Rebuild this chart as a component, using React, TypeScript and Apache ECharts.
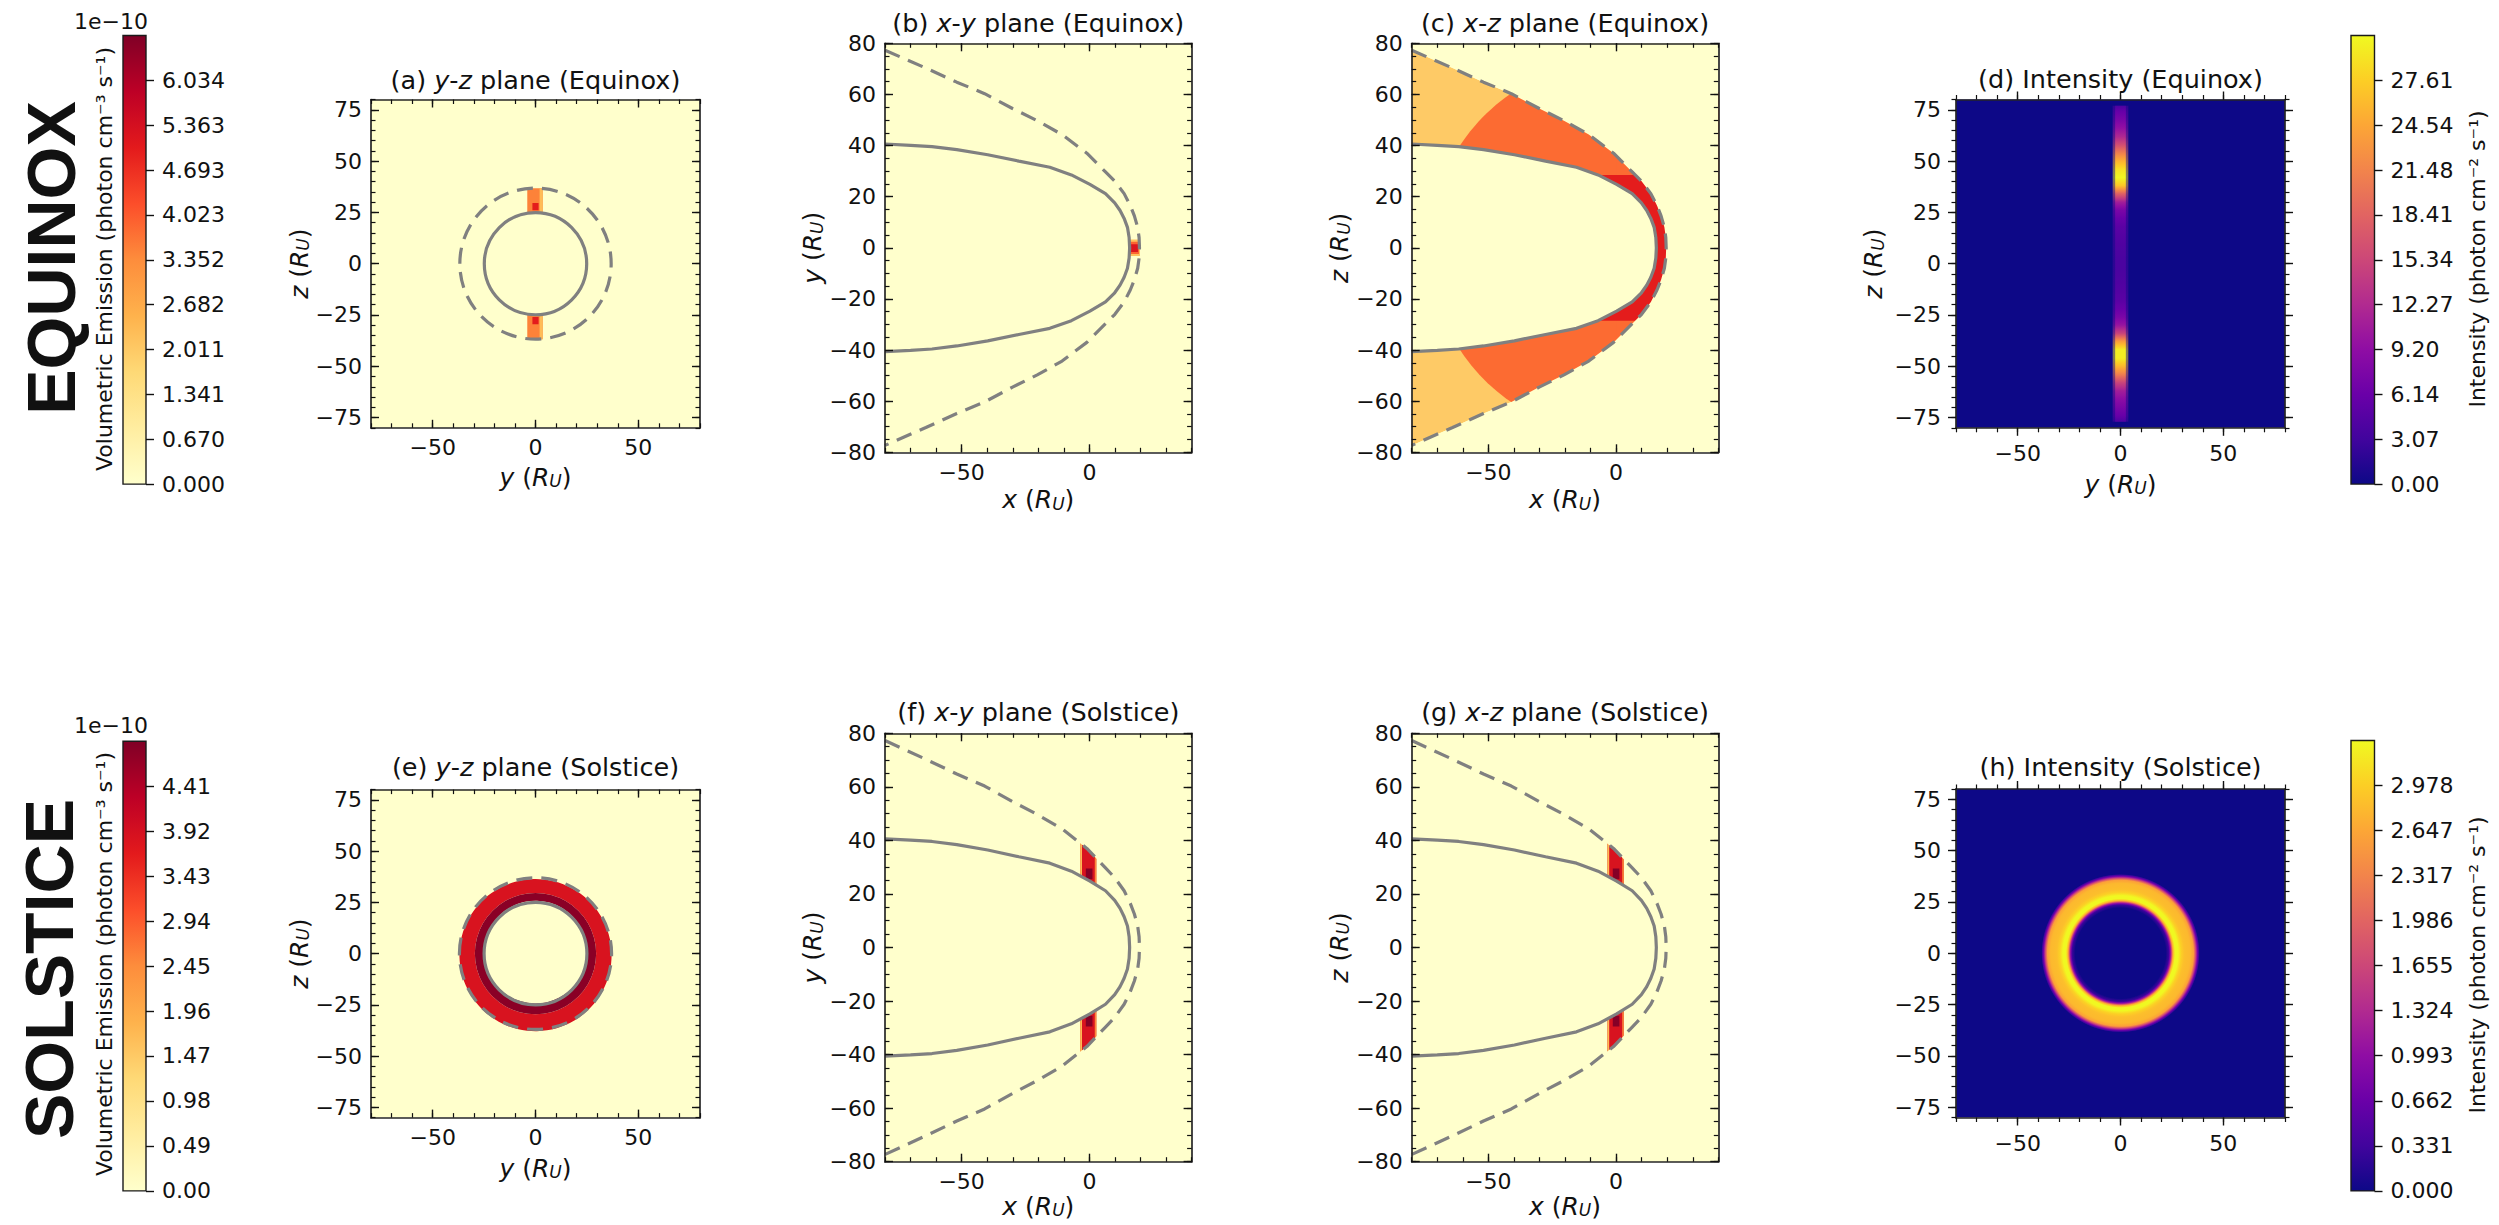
import React, { useEffect, useRef } from "react";
import * as echarts from "echarts";

const FONT = "DejaVu Sans";
const INK = "#111111";
const LINE_GREY = "#808080";

// ---------- colormaps (matplotlib YlOrRd, plasma)
const YL_OR_RD = ["#ffffcc", "#ffeda0", "#fed976", "#feb24c", "#fd8d3c", "#fc4e2a", "#e31a1c", "#bd0026", "#800026"];
const PLASMA = ["#0d0887", "#41049d", "#6a00a8", "#8f0da4", "#b12a90", "#cc4778", "#e16462", "#f2844b", "#fca636", "#fcce25", "#f0f921"];

// ---------- colorbar ranges and tick labels
const emissionEquinoxMax = 6.704;
const emissionEquinoxTicks = ["0.000", "0.670", "1.341", "2.011", "2.682", "3.352", "4.023", "4.693", "5.363", "6.034"];
const emissionSolsticeMax = 4.9;
const emissionSolsticeTicks = ["0.00", "0.49", "0.98", "1.47", "1.96", "2.45", "2.94", "3.43", "3.92", "4.41"];
const intensityEquinoxMax = 30.68;
const intensityEquinoxTicks = ["0.00", "3.07", "6.14", "9.20", "12.27", "15.34", "18.41", "21.48", "24.54", "27.61"];
const intensitySolsticeMax = 3.309;
const intensitySolsticeTicks = ["0.000", "0.331", "0.662", "0.993", "1.324", "1.655", "1.986", "2.317", "2.647", "2.978"];

// ---------- axis ticks
const yzMajorX = [-50, 0, 50];
const yzMajorY = [-75, -50, -25, 0, 25, 50, 75];
const planeMajorX = [-50, 0];
const planeMajorY = [-80, -60, -40, -20, 0, 20, 40, 60, 80];

// ---------- boundaries (upper half, tail -> nose): x and cylindrical radius, in R_U
const magnetopauseX = [-80, -70, -61.6, -51.9, -39.8, -27.6, -15.5, -7.05, 0.2, 6.3, 9.9, 12.0, 13.6, 14.9, 15.55, 15.75];
const magnetopauseRho = [40.6, 40.1, 39.6, 38.4, 36.4, 33.9, 31.5, 28.5, 24.8, 21.2, 17.6, 14.6, 11.5, 8.0, 4.0, 0];
const bowShockX = [-80, -64, -51.9, -41.0, -30.1, -20.4, -10.7, -1.0, 6.3, 9.9, 13.6, 16.0, 17.6, 18.9, 19.45, 19.6];
const bowShockRho = [77.3, 70.3, 64.8, 60.3, 54.5, 49.7, 44.3, 37.0, 29.7, 26.1, 21.2, 16.5, 12.5, 8.0, 4.0, 0];

// cross-sections at x = 0 (radius of magnetopause, bow shock), [radius, dashed]
const yzCirclesEquinox = [[24.9, 0], [36.8, 1]];
const yzCirclesSolstice = [[25.0, 0], [37.0, 1]];

// ---------- emission cells [x0, x1, y0, y1, value(1e-10)]
const equinoxYZCells = [
  [-4.0, 3.5, 24.5, 36.8, 3.5],
  [-4.0, 3.5, -36.8, -24.5, 3.5],
  [2.0, 3.5, 24.5, 36.8, 2.3],
  [2.0, 3.5, -36.8, -24.5, 2.3],
  [-1.5, 1.5, 26.0, 29.5, 5.0],
  [-1.5, 1.5, -29.5, -26.0, 5.0],
];
const equinoxXYCells = [
  [15.2, 19.8, -3.2, 3.2, 2.2],
  [15.7, 19.4, -2.4, 2.4, 3.9],
  [16.3, 19.0, -1.6, 1.4, 5.2],
];
// x-z equinox sheath: levels [outer (r > radius), inner (r < radius), equatorial band]
const equinoxXZLevels = [2.0, 3.8, 5.0];
const equinoxXZRadius = 73;
const equinoxXZBand = 28.5;

const solsticeYZRings = [
  [29.5, 37.0, 3.85],
  [25.0, 29.5, 4.8],
];
const solsticeXYCells = [
  [-3.6, 2.7, 20, 42, 3.85], [-3.6, 2.7, -42, -20, 3.85],
  [-3.6, -2.9, 20, 42, 1.7], [-3.6, -2.9, -42, -20, 1.7],
  [2.1, 2.7, 20, 42, 2.5], [2.1, 2.7, -42, -20, 2.5],
  [-1.4, 1.2, 25.5, 29.5, 4.85], [-1.4, 1.2, -29.5, -25.5, 4.85],
];
const solsticeXZCells = [
  [-3.4, 3.0, 20, 42, 3.85], [-3.4, 3.0, -42, -20, 3.85],
  [-3.4, -2.7, 20, 42, 1.7], [-3.4, -2.7, -42, -20, 1.7],
  [2.4, 3.0, 20, 42, 2.5], [2.4, 3.0, -42, -20, 2.5],
  [-1.3, 1.3, 25.5, 29.5, 4.85], [-1.3, 1.3, -29.5, -25.5, 4.85],
];

// ---------- intensity (equinox): stripe along z at y ~ 0
const equinoxStripeHalfWidth = [3.8, 2.6];
const equinoxStripeZ = [77, 74, 70, 66, 62, 58, 54, 50, 46, 42, 38, 34, 30, 26, 22, 18, 14, 10, 6, 2,
  -2, -6, -10, -14, -18, -22, -26, -30, -34, -38, -42, -46, -50, -54, -58, -62, -66, -70, -74, -77];
const equinoxStripeI = [4, 6, 7.5, 9.5, 12, 16, 21, 25.5, 29, 30.6, 27, 18, 11, 7.5, 6, 5, 4.6, 4.3, 4.0, 3.8,
  3.8, 4.0, 4.3, 4.6, 5, 6, 7.5, 10, 15, 24, 30, 30, 26, 21, 15, 11, 9, 7.5, 6, 4];

// ---------- intensity (solstice): radial ring profile
const solsticeRingR = [22, 23.5, 24.5, 25.5, 26.5, 28.0, 29.5, 31, 34, 35.5, 36.5, 37.5, 38.5];
const solsticeRingI = [0, 0.3, 1.2, 2.7, 3.3, 3.3, 3.0, 2.85, 2.8, 2.6, 1.7, 0.7, 0];

// ---------- helpers
function hexRgb(h: string): number[] {
  return [1, 3, 5].map((i) => parseInt(h.slice(i, i + 2), 16));
}
function cmap(stops: string[], t: number): string {
  const tt = Math.max(0, Math.min(1, t));
  const n = stops.length - 1;
  const f = tt * n;
  const i = Math.min(n - 1, Math.floor(f));
  const u = f - i;
  const a = hexRgb(stops[i]);
  const b = hexRgb(stops[i + 1]);
  const c = a.map((v, k) => Math.round(v + (b[k] - v) * u));
  return `rgb(${c[0]},${c[1]},${c[2]})`;
}
function profileStops(pos: number[], vals: number[], max: number, toOffset: (p: number) => number) {
  const stops: any[] = [];
  for (let i = 0; i < pos.length; i++) {
    const last = i === pos.length - 1;
    const sub = last ? 1 : 4;
    for (let k = 0; k < sub; k++) {
      const p = last ? pos[i] : pos[i] + ((pos[i + 1] - pos[i]) * k) / sub;
      const v = last ? vals[i] : vals[i] + ((vals[i + 1] - vals[i]) * k) / sub;
      stops.push({ offset: Math.max(0, Math.min(1, toOffset(p))), color: cmap(PLASMA, v / max) });
    }
  }
  return stops;
}
const tickFmt = (v: number) => (v < 0 ? "\u2212" + String(-v) : String(v));

const mpUpper = magnetopauseX.map((x, i) => [x, magnetopauseRho[i]]);
const bsUpper = bowShockX.map((x, i) => [x, bowShockRho[i]]);
const mpCurve = [...mpUpper, ...mpUpper.slice(0, -1).reverse().map(([x, r]) => [x, -r])];
const bsCurve = [...bsUpper, ...bsUpper.slice(0, -1).reverse().map(([x, r]) => [x, -r])];
const outsideBowShock = [[-80, 80], [40, 80], [40, -80], [-80, -80], ...bsCurve.slice().reverse()];

function buildOption() {
  const grid: any[] = [];
  const xAxis: any[] = [];
  const yAxis: any[] = [];
  const series: any[] = [];
  const elements: any[] = [];

  const nameRich = {
    i: { fontFamily: FONT, fontStyle: "italic", fontSize: 25, color: INK },
    s: { fontFamily: FONT, fontStyle: "italic", fontSize: 17, color: INK, verticalAlign: "bottom", padding: [8, 0, 0, 0] },
  };

  function axes(dim: "x" | "y", g: number, min: number, max: number, major: number[], minor: number, inward: boolean, name: string, gap: number) {
    const list = dim === "x" ? xAxis : yAxis;
    const sides = dim === "x" ? ["bottom", "top"] : ["left", "right"];
    const mainIndex = list.length;
    sides.forEach((pos, si) => {
      list.push({
        gridIndex: g, type: "value", min, max, position: pos, z: 10,
        axisLine: { show: true, onZero: false, lineStyle: { color: "#262626", width: 1.7 } },
        axisTick: { show: true, inside: inward, length: 8, customValues: major, lineStyle: { color: "#111", width: 1.4 } },
        axisLabel: { show: si === 0, customValues: major, formatter: tickFmt, margin: inward ? 9 : 15, fontFamily: FONT, fontSize: 22, color: INK },
        splitLine: { show: false },
        name: si === 0 && name ? name : "",
        nameLocation: "middle",
        nameGap: gap,
        nameTextStyle: { fontFamily: FONT, fontSize: 25, color: INK, rich: nameRich },
      });
      list.push({
        gridIndex: g, type: "value", min, max, interval: minor, position: pos, z: 10,
        axisLine: { show: false, onZero: false },
        axisTick: { show: true, inside: inward, length: 4.5, lineStyle: { color: "#111", width: 1.2 } },
        axisLabel: { show: false },
        splitLine: { show: false },
      });
    });
    return mainIndex;
  }

  const titleRich = { i: { fontFamily: FONT, fontStyle: "italic", fontSize: 25.5, fill: INK } };
  function text(t: string, x: number, y: number, size: number, opts: any = {}) {
    elements.push({
      type: "text", x, y, rotation: opts.rotation || 0, silent: true,
      style: {
        text: t, fill: INK, fontFamily: opts.family || FONT, fontSize: size, fontWeight: opts.weight || "normal",
        align: opts.align || "center", verticalAlign: "middle", rich: opts.rich,
      },
    });
  }

  function panel(cfg: any) {
    const g = grid.length;
    grid.push({ left: cfg.left, top: cfg.top, width: cfg.width, height: cfg.height, show: true, backgroundColor: cfg.bg, borderWidth: 0 });
    const xi = axes("x", g, cfg.x[0], cfg.x[1], cfg.xMajor, cfg.xMinor, cfg.inward, cfg.xName, cfg.xGap);
    const yi = axes("y", g, cfg.y[0], cfg.y[1], cfg.yMajor, cfg.yMinor, cfg.inward, cfg.yName, cfg.yGap);
    text(cfg.title, cfg.left + cfg.width / 2, cfg.titleY, 25.5, { rich: titleRich });
    return { xi, yi };
  }

  function colorbar(left: number, top: number, width: number, height: number, max: number, labels: string[], stops: string[]) {
    const g = grid.length;
    grid.push({ left, top, width, height, show: false });
    const xi = xAxis.length;
    xAxis.push({ gridIndex: g, type: "value", min: 0, max: 1, show: false });
    const yi = yAxis.length;
    const vals = labels.map(Number);
    yAxis.push({
      gridIndex: g, type: "value", min: 0, max, position: "right", z: 10,
      axisLine: { show: false, onZero: false },
      axisTick: { show: true, inside: false, length: 8, customValues: vals, lineStyle: { color: "#111", width: 1.4 } },
      axisLabel: {
        show: true, customValues: vals, margin: 16, fontFamily: FONT, fontSize: 22, color: INK,
        formatter: (v: number) => {
          const k = vals.indexOf(v);
          return k >= 0 ? labels[k] : String(v);
        },
      },
      splitLine: { show: false },
    });
    series.push({
      type: "custom", xAxisIndex: xi, yAxisIndex: yi, silent: true, z: 2, data: [[0, max]],
      renderItem: (params: any, api: any) => {
        const p0 = api.coord([0, 0]);
        const p1 = api.coord([1, api.value(1)]);
        return {
          type: "rect",
          shape: { x: p0[0], y: p1[1], width: p1[0] - p0[0], height: p0[1] - p1[1] },
          style: {
            fill: new echarts.graphic.LinearGradient(0, 1, 0, 0, stops.map((c, i) => ({ offset: i / (stops.length - 1), color: c }))),
            stroke: "#1a1a1a", lineWidth: 1.4,
          },
        };
      },
    });
  }

  const custom = (ax: any, data: any[], renderItem: any) =>
    series.push({ type: "custom", xAxisIndex: ax.xi, yAxisIndex: ax.yi, data, renderItem, clip: true, silent: true, z: 2 });
  const boundaryLines = (ax: any) => {
    series.push({ type: "line", xAxisIndex: ax.xi, yAxisIndex: ax.yi, data: mpCurve, showSymbol: false, symbol: "none", smooth: false, clip: true, silent: true, z: 4, lineStyle: { color: LINE_GREY, width: 3.2 } });
    series.push({ type: "line", xAxisIndex: ax.xi, yAxisIndex: ax.yi, data: bsCurve, showSymbol: false, symbol: "none", smooth: false, clip: true, silent: true, z: 4, lineStyle: { color: LINE_GREY, width: 3.2, type: [16, 9] } });
  };
  const cellRender = (max: number, stops: string[]) => (params: any, api: any) => {
    const a = api.coord([api.value(0), api.value(3)]);
    const b = api.coord([api.value(1), api.value(2)]);
    return {
      type: "rect",
      shape: { x: Math.min(a[0], b[0]), y: Math.min(a[1], b[1]), width: Math.abs(b[0] - a[0]), height: Math.abs(b[1] - a[1]) },
      style: { fill: cmap(stops, api.value(4) / max) },
    };
  };
  const circleRender = (params: any, api: any) => {
    const c = api.coord([0, 0]);
    const s = api.size([api.value(0), api.value(0)]);
    return {
      type: "ellipse", z2: 10,
      shape: { cx: c[0], cy: c[1], rx: s[0], ry: s[1] },
      style: { fill: "none", stroke: LINE_GREY, lineWidth: 3.2, lineDash: api.value(1) ? [16, 9] : null },
    };
  };
  const coverRender = (params: any, api: any) => {
    const P = (pts: number[][]) => pts.map((p) => api.coord(p));
    return {
      type: "group",
      children: [
        { type: "polygon", shape: { points: P(outsideBowShock) }, style: { fill: YL_OR_RD[0] } },
        { type: "polygon", shape: { points: P(mpCurve) }, style: { fill: YL_OR_RD[0] } },
      ],
    };
  };

  const ylBg = YL_OR_RD[0];
  const plBg = PLASMA[0];
  const yzName = (h: string, v: string) => [`{i|${h}} ({i|R}{s|U})`, `{i|${v}} ({i|R}{s|U})`];

  // ---------------- Row 1 : Equinox
  text("EQUINOX", 51, 258, 68, { rotation: Math.PI / 2, family: "Liberation Sans", weight: "bold" });
  colorbar(123, 35.5, 23, 448.6, emissionEquinoxMax, emissionEquinoxTicks, YL_OR_RD);
  text("Volumetric Emission (photon cm\u207B\u00B3 s\u207B\u00B9)", 104, 259, 22, { rotation: Math.PI / 2 });
  text("1e\u221210", 148, 21, 22, { align: "right" });

  const a = panel({
    left: 371, top: 99.5, width: 329, height: 328.3, x: [-80, 80], y: [-80, 80],
    xMajor: yzMajorX, xMinor: 10, yMajor: yzMajorY, yMinor: 5, inward: true,
    xName: yzName("y", "z")[0], yName: yzName("y", "z")[1], xGap: 37, yGap: 57,
    title: "(a) {i|y}-{i|z} plane (Equinox)", titleY: 79.6, bg: ylBg,
  });
  custom(a, equinoxYZCells, cellRender(emissionEquinoxMax, YL_OR_RD));
  series.push({ type: "custom", xAxisIndex: a.xi, yAxisIndex: a.yi, data: yzCirclesEquinox, renderItem: circleRender, clip: true, silent: true, z: 4 });

  const b = panel({
    left: 885, top: 43.3, width: 306.6, height: 409, x: [-80, 40], y: [-80, 80],
    xMajor: planeMajorX, xMinor: 10, yMajor: planeMajorY, yMinor: 5, inward: true,
    xName: yzName("x", "y")[0], yName: yzName("x", "y")[1], xGap: 35, yGap: 60,
    title: "(b) {i|x}-{i|y} plane (Equinox)", titleY: 23.3, bg: ylBg,
  });
  custom(b, equinoxXYCells, cellRender(emissionEquinoxMax, YL_OR_RD));
  boundaryLines(b);

  const c = panel({
    left: 1411.7, top: 43.3, width: 306.6, height: 409, x: [-80, 40], y: [-80, 80],
    xMajor: planeMajorX, xMinor: 10, yMajor: planeMajorY, yMinor: 5, inward: true,
    xName: yzName("x", "z")[0], yName: yzName("x", "z")[1], xGap: 35, yGap: 59,
    title: "(c) {i|x}-{i|z} plane (Equinox)", titleY: 23.3, bg: ylBg,
  });
  custom(c, [[0, 0]], (params: any, api: any) => {
    const P = (pts: number[][]) => pts.map((p) => api.coord(p));
    const col = (v: number) => cmap(YL_OR_RD, v / emissionEquinoxMax);
    const o = api.coord([0, 0]);
    const rs = api.size([equinoxXZRadius, equinoxXZRadius]);
    const h0 = api.coord([0, 45]);
    const h1 = api.coord([30, -45]);
    const r0 = api.coord([-30, equinoxXZBand]);
    const r1 = api.coord([30, -equinoxXZBand]);
    return {
      type: "group",
      children: [
        { type: "polygon", shape: { points: P(bsCurve) }, style: { fill: col(equinoxXZLevels[0]) } },
        { type: "ellipse", shape: { cx: o[0], cy: o[1], rx: rs[0], ry: rs[1] }, style: { fill: col(equinoxXZLevels[1]) } },
        { type: "rect", shape: { x: h0[0], y: h0[1], width: h1[0] - h0[0], height: h1[1] - h0[1] }, style: { fill: col(equinoxXZLevels[1]) } },
        { type: "rect", shape: { x: r0[0], y: r0[1], width: r1[0] - r0[0], height: r1[1] - r0[1] }, style: { fill: col(equinoxXZLevels[2]) } },
        { type: "polygon", shape: { points: P(outsideBowShock) }, style: { fill: ylBg } },
        { type: "polygon", shape: { points: P(mpCurve) }, style: { fill: ylBg } },
      ],
    };
  });
  boundaryLines(c);

  const d = panel({
    left: 1956, top: 99.5, width: 329, height: 328.3, x: [-80, 80], y: [-80, 80],
    xMajor: yzMajorX, xMinor: 10, yMajor: yzMajorY, yMinor: 5, inward: false,
    xName: yzName("y", "z")[0], yName: yzName("y", "z")[1], xGap: 44, yGap: 70,
    title: "(d) Intensity (Equinox)", titleY: 78.6, bg: plBg,
  });
  custom(d, equinoxStripeHalfWidth.map((w) => [w]), (params: any, api: any) => {
    const w = api.value(0);
    const zTop = equinoxStripeZ[0];
    const zBot = equinoxStripeZ[equinoxStripeZ.length - 1];
    const p0 = api.coord([-w, zTop]);
    const p1 = api.coord([w, zBot]);
    const stops = profileStops(equinoxStripeZ, equinoxStripeI, intensityEquinoxMax, (z) => (zTop - z) / (zTop - zBot));
    return {
      type: "rect",
      shape: { x: p0[0], y: p0[1], width: p1[0] - p0[0], height: p1[1] - p0[1] },
      style: { fill: new echarts.graphic.LinearGradient(0, 0, 0, 1, stops), opacity: params.dataIndex === 0 ? 0.5 : 1 },
    };
  });
  colorbar(2351, 35.5, 23.5, 448.6, intensityEquinoxMax, intensityEquinoxTicks, PLASMA);
  text("Intensity (photon cm\u207B\u00B2 s\u207B\u00B9)", 2477, 259, 22, { rotation: Math.PI / 2 });

  // ---------------- Row 2 : Solstice
  text("SOLSTICE", 49, 969, 68, { rotation: Math.PI / 2, family: "Liberation Sans", weight: "bold" });
  colorbar(123, 741.2, 23, 449.7, emissionSolsticeMax, emissionSolsticeTicks, YL_OR_RD);
  text("Volumetric Emission (photon cm\u207B\u00B3 s\u207B\u00B9)", 104, 964, 22, { rotation: Math.PI / 2 });
  text("1e\u221210", 148, 725, 22, { align: "right" });

  const e = panel({
    left: 371, top: 789.6, width: 329, height: 328, x: [-80, 80], y: [-80, 80],
    xMajor: yzMajorX, xMinor: 10, yMajor: yzMajorY, yMinor: 5, inward: true,
    xName: yzName("y", "z")[0], yName: yzName("y", "z")[1], xGap: 38, yGap: 57,
    title: "(e) {i|y}-{i|z} plane (Solstice)", titleY: 766.8, bg: ylBg,
  });
  custom(e, solsticeYZRings, (params: any, api: any) => {
    const o = api.coord([0, 0]);
    const r0 = api.size([api.value(0), 0])[0];
    const r = api.size([api.value(1), 0])[0];
    return { type: "ring", shape: { cx: o[0], cy: o[1], r0, r }, style: { fill: cmap(YL_OR_RD, api.value(2) / emissionSolsticeMax) } };
  });
  series.push({ type: "custom", xAxisIndex: e.xi, yAxisIndex: e.yi, data: yzCirclesSolstice, renderItem: circleRender, clip: true, silent: true, z: 4 });

  const f = panel({
    left: 885, top: 733.3, width: 306.6, height: 428.4, x: [-80, 40], y: [-80, 80],
    xMajor: planeMajorX, xMinor: 10, yMajor: planeMajorY, yMinor: 5, inward: true,
    xName: yzName("x", "y")[0], yName: yzName("x", "y")[1], xGap: 32, yGap: 60,
    title: "(f) {i|x}-{i|y} plane (Solstice)", titleY: 711.7, bg: ylBg,
  });
  custom(f, solsticeXYCells, cellRender(emissionSolsticeMax, YL_OR_RD));
  custom(f, [[0, 0]], coverRender);
  boundaryLines(f);

  const g = panel({
    left: 1411.7, top: 733.3, width: 306.6, height: 428.4, x: [-80, 40], y: [-80, 80],
    xMajor: planeMajorX, xMinor: 10, yMajor: planeMajorY, yMinor: 5, inward: true,
    xName: yzName("x", "z")[0], yName: yzName("x", "z")[1], xGap: 32, yGap: 60,
    title: "(g) {i|x}-{i|z} plane (Solstice)", titleY: 711.7, bg: ylBg,
  });
  custom(g, solsticeXZCells, cellRender(emissionSolsticeMax, YL_OR_RD));
  custom(g, [[0, 0]], coverRender);
  boundaryLines(g);

  const h = panel({
    left: 1956, top: 789, width: 329, height: 328.5, x: [-80, 80], y: [-80, 80],
    xMajor: yzMajorX, xMinor: 10, yMajor: yzMajorY, yMinor: 5, inward: false,
    xName: "", yName: "", xGap: 40, yGap: 60,
    title: "(h) Intensity (Solstice)", titleY: 766.8, bg: plBg,
  });
  custom(h, [[0, 0]], (params: any, api: any) => {
    const o = api.coord([0, 0]);
    const rOut = solsticeRingR[solsticeRingR.length - 1];
    const r = api.size([rOut, 0])[0];
    const r0 = api.size([solsticeRingR[0], 0])[0];
    const stops = profileStops(solsticeRingR, solsticeRingI, intensitySolsticeMax, (p) => p / rOut);
    return {
      type: "ring",
      shape: { cx: o[0], cy: o[1], r0, r },
      style: { fill: new echarts.graphic.RadialGradient(0.5, 0.5, 0.5, stops) },
    };
  });
  colorbar(2351, 740.5, 23.5, 450.4, intensitySolsticeMax, intensitySolsticeTicks, PLASMA);
  text("Intensity (photon cm\u207B\u00B2 s\u207B\u00B9)", 2477, 965, 22, { rotation: Math.PI / 2 });

  return {
    animation: false,
    backgroundColor: "#ffffff",
    grid, xAxis, yAxis, series,
    graphic: { elements },
  };
}

export default function App() {
  const ref = useRef<HTMLDivElement>(null);
  useEffect(() => {
    const chart = echarts.init(ref.current as HTMLDivElement, null, { renderer: "svg" });
    chart.setOption(buildOption() as any);
    return () => chart.dispose();
  }, []);
  return <div ref={ref} style={{ position: "absolute", left: 0, top: 0, width: 2499, height: 1225 }} />;
}
